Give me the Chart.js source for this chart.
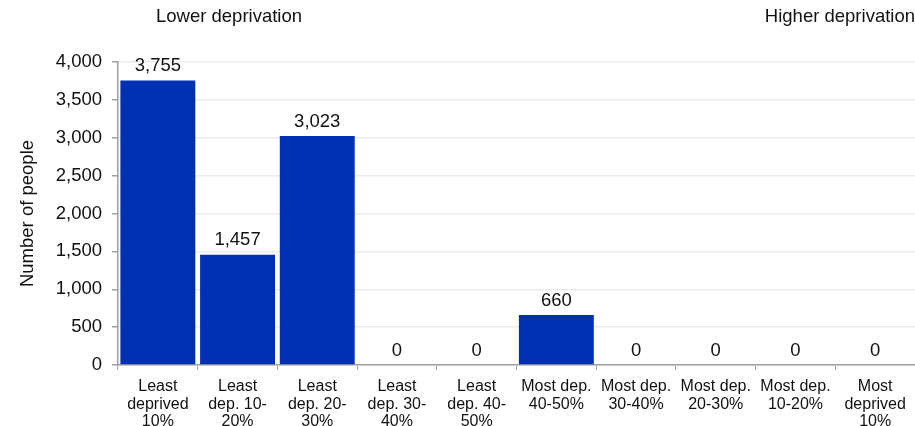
<!DOCTYPE html>
<html>
<head>
<meta charset="utf-8">
<script src="https://cdn.jsdelivr.net/npm/chart.js@4.4.1/dist/chart.umd.min.js"></script>
<style>
  html, body { margin: 0; padding: 0; background: #fff; }
  #wrap { width: 915px; height: 426px; position: relative; }
</style>
</head>
<body>
<div id="wrap"><canvas id="c"></canvas></div>
<script>
  // deprivation deciles, least -> most deprived
  const categories = [
    ['Least', 'deprived', '10%'],
    ['Least', 'dep. 10-', '20%'],
    ['Least', 'dep. 20-', '30%'],
    ['Least', 'dep. 30-', '40%'],
    ['Least', 'dep. 40-', '50%'],
    ['Most dep.', '40-50%'],
    ['Most dep.', '30-40%'],
    ['Most dep.', '20-30%'],
    ['Most dep.', '10-20%'],
    ['Most', 'deprived', '10%'],
  ];
  const people = [3755, 1457, 3023, 0, 0, 660, 0, 0, 0, 0];
  const yTicks = [0, 500, 1000, 1500, 2000, 2500, 3000, 3500, 4000];

  const FONT = '"Liberation Sans", Arial, sans-serif';

  // value labels above bars + the two header captions
  const labelsPlugin = {
    id: 'barLabels',
    afterDatasetsDraw(chart) {
      const ctx = chart.ctx;
      const meta = chart.getDatasetMeta(0);
      ctx.save();
      ctx.font = '18.5px ' + FONT;
      ctx.fillStyle = '#111';
      ctx.textAlign = 'center';
      ctx.textBaseline = 'bottom';
      meta.data.forEach((bar, i) => {
        ctx.fillText(people[i].toLocaleString('en-GB'), bar.x, bar.y - 5);
      });
      ctx.textBaseline = 'middle';
      ctx.fillText('Lower deprivation', 229, 17);
      ctx.textAlign = 'right';
      ctx.fillText('Higher deprivation', 915, 17);
      ctx.restore();
    }
  };

  new Chart(document.getElementById('c'), {
    type: 'bar',
    data: {
      labels: categories,
      datasets: [{
        data: people,
        backgroundColor: '#0030b4',
        borderWidth: 0,
        barPercentage: 0.94,
        categoryPercentage: 1,
      }],
    },
    options: {
      responsive: true, maintainAspectRatio: false, animation: false,
      layout: { padding: { top: 62, right: 0, left: 0, bottom: 0 } },
      plugins: { legend: { display: false }, tooltip: { enabled: false } },
      scales: {
        x: {
          grid: { display: true, drawOnChartArea: false, offset: true, tickLength: 5, color: '#a0a0a0' },
          border: { color: '#a0a0a0', width: 1.5 },
          ticks: { color: '#111', font: { family: FONT, size: 16, lineHeight: 1.1 }, maxRotation: 0, autoSkip: false, padding: 8 },
          afterFit(scale) { scale.height = 61; },
        },
        y: {
          min: 0, max: 4000,
          afterBuildTicks(scale) { scale.ticks = yTicks.map(v => ({ value: v })); },
          grid: { color: '#ececec', tickColor: '#a0a0a0', tickLength: 6, lineWidth: 1.5 },
          border: { color: '#a0a0a0', width: 1.5 },
          ticks: {
            color: '#111', font: { family: FONT, size: 18.5 }, padding: 10,
            callback: v => v.toLocaleString('en-GB'),
          },
          title: { display: true, text: 'Number of people', color: '#111', font: { family: FONT, size: 18.5 }, padding: { top: 17, bottom: 0 } },
          afterFit(scale) { scale.width = 118; },
        },
      },
    },
    plugins: [labelsPlugin],
  });
</script>
</body>
</html>
